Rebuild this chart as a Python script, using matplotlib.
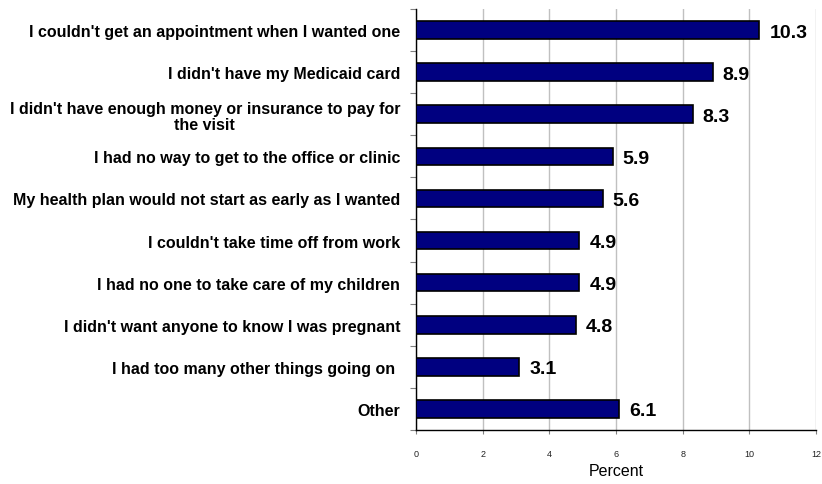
import matplotlib
matplotlib.use("Agg")
import matplotlib.pyplot as plt
import numpy as np

categories = [
    "I couldn't get an appointment when I wanted one",
    "I didn't have my Medicaid card",
    "I didn't have enough money or insurance to pay for\nthe visit",
    "I had no way to get to the office or clinic",
    "My health plan would not start as early as I wanted",
    "I couldn't take time off from work",
    "I had no one to take care of my children",
    "I didn't want anyone to know I was pregnant",
    "I had too many other things going on ",
    "Other",
]
values = [10.3, 8.9, 8.3, 5.9, 5.6, 4.9, 4.9, 4.8, 3.1, 6.1]
xticks = [0, 2, 4, 6, 8, 10, 12]

plt.rcParams['font.family'] = ['Liberation Sans', 'DejaVu Sans']

fig = plt.figure(figsize=(8.22, 4.85), dpi=100)
ax = fig.add_axes([416/822, 1-431/485, 400/822, 421/485])

y = np.arange(len(categories))
ax.barh(y, values, height=0.42, color='#000080', edgecolor='black', linewidth=1.2, zorder=3)
for yi, v in zip(y, values):
    ax.text(v + 0.3, yi, f"{v:.1f}", va='center_baseline', ha='left', fontsize=14, fontweight='bold', zorder=4)

ax.set_ylim(len(categories) - 0.5, -0.5)
ax.set_xlim(0, 12)
ax.set_xticks(xticks)
ax.set_xticklabels([str(t) for t in xticks], fontsize=6.5, color='#222222')
ax.tick_params(axis='x', length=3, pad=11, width=0.8, color='#808080')
ax.xaxis.grid(True, color='#c0c0c0', linewidth=1.0, zorder=0)

ax.set_yticks(y)
ax.set_yticklabels(categories, fontsize=11.5, fontweight='bold', multialignment='center', linespacing=1.12)
ax.tick_params(axis='y', which='major', length=0, pad=11.5)
ax.set_yticks(np.arange(-0.5, len(categories), 1.0), minor=True)
ax.tick_params(axis='y', which='minor', length=4, width=0.8, color='#808080')

ax.set_xlabel("Percent", fontsize=11.5, labelpad=3)

for s in ['top', 'right']:
    ax.spines[s].set_visible(False)
ax.spines['left'].set_linewidth(1.0)
ax.spines['bottom'].set_linewidth(1.0)

fig.savefig("out.png", dpi=100)
